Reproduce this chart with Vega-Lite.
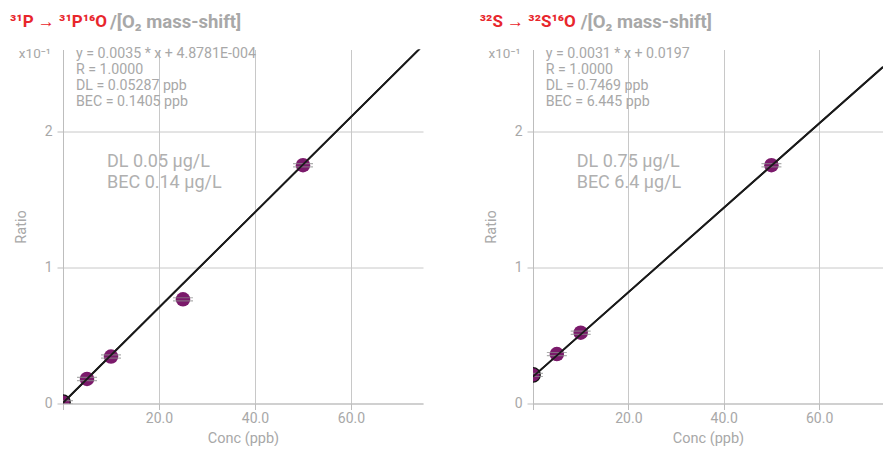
{
  "$schema": "https://vega.github.io/schema/vega-lite/v6.json",
  "padding": {"left": 10, "top": 12.5, "right": 0, "bottom": 0},
  "bounds": "flush",
  "spacing": 110,
  "config": {
    "font": "Roboto",
    "view": {"stroke": null},
    "axis": {
      "domainColor": "#bdbdbd",
      "gridColor": "#c8c8c8",
      "tickColor": "#bdbdbd",
      "labelColor": "#a8a8a8",
      "titleColor": "#a8a8a8",
      "labelFontSize": 14,
      "titleFontSize": 14.5,
      "titleFontWeight": "normal",
      "labelFont": "Roboto",
      "titleFont": "Roboto",
      "tickSize": 6
    }
  },
  "datasets": {
    "pointsP": [
      {"conc": 0, "ratio": 0.01},
      {"conc": 5, "ratio": 0.18},
      {"conc": 10, "ratio": 0.345},
      {"conc": 25, "ratio": 0.765},
      {"conc": 50, "ratio": 1.75}
    ],
    "lineP": [
      {"conc": 0, "ratio": 0.0049},
      {"conc": 75, "ratio": 2.63}
    ],
    "textP": [
      {"role": "red", "conc": -11.04, "ratio": 2.80, "label": "³¹P → ³¹P¹⁶O"},
      {"role": "gray", "conc": 9.79, "ratio": 2.80, "label": "/[O₂ mass-shift]"},
      {"role": "exp", "conc": -2.56, "ratio": 2.569, "label": "x10⁻¹"},
      {"role": "eq", "conc": 2.71, "ratio": 2.564, "label": "y = 0.0035 * x + 4.8781E-004"},
      {"role": "eq", "conc": 2.71, "ratio": 2.448, "label": "R = 1.0000"},
      {"role": "eq", "conc": 2.71, "ratio": 2.331, "label": "DL = 0.05287 ppb"},
      {"role": "eq", "conc": 2.71, "ratio": 2.215, "label": "BEC = 0.1405 ppb"},
      {"role": "big", "conc": 9.17, "ratio": 1.775, "label": "DL 0.05 µg/L"},
      {"role": "big", "conc": 9.17, "ratio": 1.617, "label": "BEC 0.14 µg/L"}
    ],
    "pointsS": [
      {"conc": 0, "ratio": 0.21},
      {"conc": 5, "ratio": 0.363},
      {"conc": 10, "ratio": 0.52},
      {"conc": 50, "ratio": 1.75}
    ],
    "lineS": [
      {"conc": 0, "ratio": 0.197},
      {"conc": 73.4, "ratio": 2.472}
    ],
    "textS": [
      {"role": "red", "conc": -11.17, "ratio": 2.80, "label": "³²S → ³²S¹⁶O"},
      {"role": "gray", "conc": 10.0, "ratio": 2.80, "label": "/[O₂ mass-shift]"},
      {"role": "exp", "conc": -2.64, "ratio": 2.569, "label": "x10⁻¹"},
      {"role": "eq", "conc": 2.66, "ratio": 2.564, "label": "y = 0.0031 * x + 0.0197"},
      {"role": "eq", "conc": 2.66, "ratio": 2.448, "label": "R = 1.0000"},
      {"role": "eq", "conc": 2.66, "ratio": 2.331, "label": "DL = 0.7469 ppb"},
      {"role": "eq", "conc": 2.66, "ratio": 2.215, "label": "BEC = 6.445 ppb"},
      {"role": "big", "conc": 9.16, "ratio": 1.775, "label": "DL 0.75 µg/L"},
      {"role": "big", "conc": 9.16, "ratio": 1.617, "label": "BEC 6.4 µg/L"}
    ]
  },
  "hconcat": [
    {
      "width": 360,
      "height": 354,
      "layer": [
        {
          "data": {"name": "lineP"},
          "mark": {"type": "line", "color": "#1a1a1a", "strokeWidth": 1.8, "clip": true},
          "encoding": {
            "x": {"field": "conc", "type": "quantitative", "scale": {"domain": [0, 75], "nice": false},
              "axis": {"values": [0, 20, 40, 60], "format": ".1f", "labelExpr": "datum.value == 0 ? '' : datum.label", "title": "Conc (ppb)", "titlePadding": 6, "labelPadding": 2}},
            "y": {"field": "ratio", "type": "quantitative", "scale": {"domain": [0, 2.6], "nice": false},
              "axis": {"values": [0, 1, 2], "format": "d", "title": "Ratio", "titlePadding": 16, "labelPadding": 5}}
          }
        },
        {
          "data": {"name": "pointsP"},
          "mark": {"type": "point", "shape": "circle", "filled": true, "size": 210, "color": "#7b1a6b", "opacity": 1, "clip": true},
          "encoding": {
            "x": {"field": "conc", "type": "quantitative"},
            "y": {"field": "ratio", "type": "quantitative"},
            "stroke": {"condition": {"test": "datum.conc == 0", "value": "#111111"}, "value": null},
            "strokeWidth": {"value": 1.2}
          }
        },
        {
          "data": {"name": "pointsP"},
          "mark": {"type": "tick", "orient": "horizontal", "size": 20, "thickness": 1.2, "color": "#8c8c8c", "yOffset": -1.6, "clip": true},
          "encoding": {"x": {"field": "conc", "type": "quantitative"}, "y": {"field": "ratio", "type": "quantitative"}}
        },
        {
          "data": {"name": "pointsP"},
          "mark": {"type": "tick", "orient": "horizontal", "size": 20, "thickness": 1.2, "color": "#8c8c8c", "yOffset": 1.6, "clip": true},
          "encoding": {"x": {"field": "conc", "type": "quantitative"}, "y": {"field": "ratio", "type": "quantitative"}}
        },
        {
          "data": {"name": "lineP"},
          "mark": {"type": "line", "color": "#1a1a1a", "strokeWidth": 1.8, "clip": true},
          "encoding": {"x": {"field": "conc", "type": "quantitative"}, "y": {"field": "ratio", "type": "quantitative"}}
        },
        {
          "data": {"name": "textP"},
          "transform": [{"filter": "datum.role == 'red'"}],
          "mark": {"type": "text", "align": "left", "baseline": "middle", "fontSize": 17, "fontWeight": "bold", "color": "#e8262c"},
          "encoding": {"x": {"field": "conc", "type": "quantitative"}, "y": {"field": "ratio", "type": "quantitative"}, "text": {"field": "label"}}
        },
        {
          "data": {"name": "textP"},
          "transform": [{"filter": "datum.role == 'gray'"}],
          "mark": {"type": "text", "align": "left", "baseline": "middle", "fontSize": 18.5, "fontWeight": "bold", "color": "#a8a8a8"},
          "encoding": {"x": {"field": "conc", "type": "quantitative"}, "y": {"field": "ratio", "type": "quantitative"}, "text": {"field": "label"}}
        },
        {
          "data": {"name": "textP"},
          "transform": [{"filter": "datum.role == 'exp'"}],
          "mark": {"type": "text", "align": "right", "baseline": "middle", "fontSize": 13.5, "color": "#a8a8a8"},
          "encoding": {"x": {"field": "conc", "type": "quantitative"}, "y": {"field": "ratio", "type": "quantitative"}, "text": {"field": "label"}}
        },
        {
          "data": {"name": "textP"},
          "transform": [{"filter": "datum.role == 'eq'"}],
          "mark": {"type": "text", "align": "left", "baseline": "middle", "fontSize": 14.2, "color": "#a8a8a8"},
          "encoding": {"x": {"field": "conc", "type": "quantitative"}, "y": {"field": "ratio", "type": "quantitative"}, "text": {"field": "label"}}
        },
        {
          "data": {"name": "textP"},
          "transform": [{"filter": "datum.role == 'big'"}],
          "mark": {"type": "text", "align": "left", "baseline": "middle", "fontSize": 18, "color": "#b0b0b0"},
          "encoding": {"x": {"field": "conc", "type": "quantitative"}, "y": {"field": "ratio", "type": "quantitative"}, "text": {"field": "label"}}
        }
      ]
    },
    {
      "width": 350,
      "height": 354,
      "layer": [
        {
          "data": {"name": "lineS"},
          "mark": {"type": "line", "color": "#1a1a1a", "strokeWidth": 1.8, "clip": true},
          "encoding": {
            "x": {"field": "conc", "type": "quantitative", "scale": {"domain": [0, 73.4], "nice": false},
              "axis": {"values": [0, 20, 40, 60], "format": ".1f", "labelExpr": "datum.value == 0 ? '' : datum.label", "title": "Conc (ppb)", "titlePadding": 6, "labelPadding": 2}},
            "y": {"field": "ratio", "type": "quantitative", "scale": {"domain": [0, 2.6], "nice": false},
              "axis": {"values": [0, 1, 2], "format": "d", "title": "Ratio", "titlePadding": 16, "labelPadding": 5}}
          }
        },
        {
          "data": {"name": "pointsS"},
          "mark": {"type": "point", "shape": "circle", "filled": true, "size": 210, "color": "#7b1a6b", "opacity": 1, "clip": true},
          "encoding": {
            "x": {"field": "conc", "type": "quantitative"},
            "y": {"field": "ratio", "type": "quantitative"},
            "stroke": {"condition": {"test": "datum.conc == 0", "value": "#111111"}, "value": null},
            "strokeWidth": {"value": 1.2}
          }
        },
        {
          "data": {"name": "pointsS"},
          "mark": {"type": "tick", "orient": "horizontal", "size": 20, "thickness": 1.2, "color": "#8c8c8c", "yOffset": -1.6, "clip": true},
          "encoding": {"x": {"field": "conc", "type": "quantitative"}, "y": {"field": "ratio", "type": "quantitative"}}
        },
        {
          "data": {"name": "pointsS"},
          "mark": {"type": "tick", "orient": "horizontal", "size": 20, "thickness": 1.2, "color": "#8c8c8c", "yOffset": 1.6, "clip": true},
          "encoding": {"x": {"field": "conc", "type": "quantitative"}, "y": {"field": "ratio", "type": "quantitative"}}
        },
        {
          "data": {"name": "lineS"},
          "mark": {"type": "line", "color": "#1a1a1a", "strokeWidth": 1.8, "clip": true},
          "encoding": {"x": {"field": "conc", "type": "quantitative"}, "y": {"field": "ratio", "type": "quantitative"}}
        },
        {
          "data": {"name": "textS"},
          "transform": [{"filter": "datum.role == 'red'"}],
          "mark": {"type": "text", "align": "left", "baseline": "middle", "fontSize": 17, "fontWeight": "bold", "color": "#e8262c"},
          "encoding": {"x": {"field": "conc", "type": "quantitative"}, "y": {"field": "ratio", "type": "quantitative"}, "text": {"field": "label"}}
        },
        {
          "data": {"name": "textS"},
          "transform": [{"filter": "datum.role == 'gray'"}],
          "mark": {"type": "text", "align": "left", "baseline": "middle", "fontSize": 18.5, "fontWeight": "bold", "color": "#a8a8a8"},
          "encoding": {"x": {"field": "conc", "type": "quantitative"}, "y": {"field": "ratio", "type": "quantitative"}, "text": {"field": "label"}}
        },
        {
          "data": {"name": "textS"},
          "transform": [{"filter": "datum.role == 'exp'"}],
          "mark": {"type": "text", "align": "right", "baseline": "middle", "fontSize": 13.5, "color": "#a8a8a8"},
          "encoding": {"x": {"field": "conc", "type": "quantitative"}, "y": {"field": "ratio", "type": "quantitative"}, "text": {"field": "label"}}
        },
        {
          "data": {"name": "textS"},
          "transform": [{"filter": "datum.role == 'eq'"}],
          "mark": {"type": "text", "align": "left", "baseline": "middle", "fontSize": 14.2, "color": "#a8a8a8"},
          "encoding": {"x": {"field": "conc", "type": "quantitative"}, "y": {"field": "ratio", "type": "quantitative"}, "text": {"field": "label"}}
        },
        {
          "data": {"name": "textS"},
          "transform": [{"filter": "datum.role == 'big'"}],
          "mark": {"type": "text", "align": "left", "baseline": "middle", "fontSize": 18, "color": "#b0b0b0"},
          "encoding": {"x": {"field": "conc", "type": "quantitative"}, "y": {"field": "ratio", "type": "quantitative"}, "text": {"field": "label"}}
        }
      ]
    }
  ]
}
